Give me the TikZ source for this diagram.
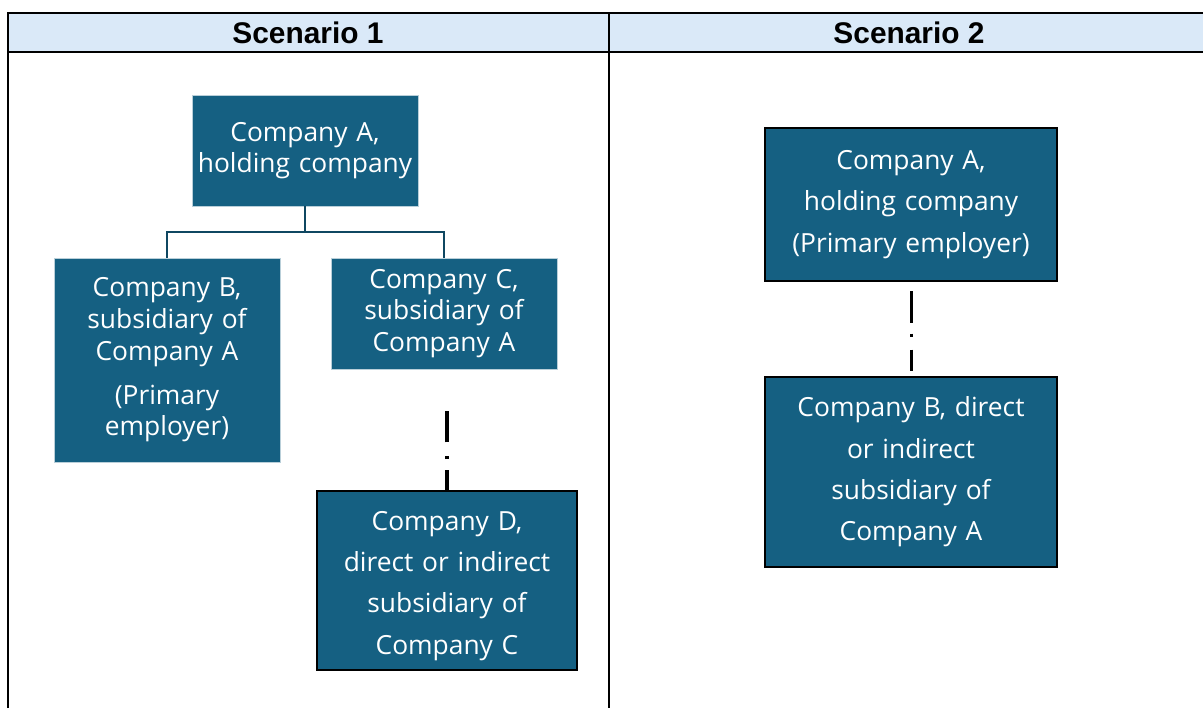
\documentclass[tikz,border=0pt]{standalone}
\usepackage{fontspec}
\setmainfont{Open Sans}
\newfontfamily\headfont{Liberation Sans}
\usepackage{xcolor}
\definecolor{boxfill}{HTML}{156082}
\definecolor{headfill}{HTML}{DAE9F8}
\definecolor{linkcol}{HTML}{0F4761}

\begin{document}
\begin{tikzpicture}[x=0.02cm,y=-0.02cm,
    company/.style={fill=boxfill, text=white, align=center, inner sep=0pt,
        font=\fontsize{15}{18}\selectfont},
    framed/.style={company, draw=black, line width=1.2pt},
    thin edge/.style={company, draw=white!70!boxfill, line width=0.4pt},
    heading/.style={font=\headfont\bfseries\fontsize{17}{20}\selectfont}]
                \useasboundingbox (0,0) rectangle (1203,708);
                % table
                \fill[headfill] (8,13) rectangle (1203,52);
                \draw[line width=1.2pt] (8,708) -- (8,13) -- (1203,13);
                \draw[line width=1.2pt] (8,52) -- (1203,52);
                \draw[line width=1.2pt] (609,13) -- (609,708);
                \node[heading] (head1) at (308,33) {Scenario 1};
                \node[heading] (head2) at (909,33) {Scenario 2};
                % scenario 1
                \node[thin edge, text width=226*0.02cm, minimum height=111*0.02cm] (hold) at (305,150.5) {Company A,\\ holding company};
                \node[thin edge, text width=226*0.02cm, minimum height=204*0.02cm] (subB) at (167,360) {Company B,\\ subsidiary of\\ Company A\\[7pt] (Primary\\ employer)};
                \node[thin edge, text width=226*0.02cm, minimum height=111*0.02cm] (subC) at (444,313.5) {Company C,\\ subsidiary of\\ Company A};
                \node[framed, text width=260*0.02cm, minimum height=179*0.02cm, font=\fontsize{15}{23.5}\selectfont] (subD) at (447,580.5) {\rule{0pt}{17pt}Company D,\\ direct or indirect\\ subsidiary of\\ Company C};
                \coordinate (split) at (305,232);
                \draw[linkcol, line width=1.5pt] (hold) -- (split);
                \draw[linkcol, line width=1.5pt] (subB.north) |- (split) -| (subC.north);
                \draw[line width=2pt, dash pattern=on 11.3pt off 6.2pt on 1.7pt off 7.9pt on 17.6pt off 30pt] (subD.north) -- (subD.north |- subC.south);
                % scenario 2
                \node[framed, text width=292*0.02cm, minimum height=153*0.02cm, font=\fontsize{15}{23.8}\selectfont] (holdA) at (911,204.5) {Company A,\\ holding company\\ (Primary employer)};
                \node[framed, text width=292*0.02cm, minimum height=190*0.02cm, font=\fontsize{15}{23.5}\selectfont] (subBB) at (911,472) {Company B, direct\\ or indirect\\ subsidiary of\\ Company A};
                \draw[line width=1.7pt, dash pattern=on 0pt off 5.1pt on 18.1pt off 6.2pt on 1.7pt off 7.4pt on 11.9pt off 10pt] (holdA.south) -- (subBB.north);
            \end{tikzpicture}
\end{document}
